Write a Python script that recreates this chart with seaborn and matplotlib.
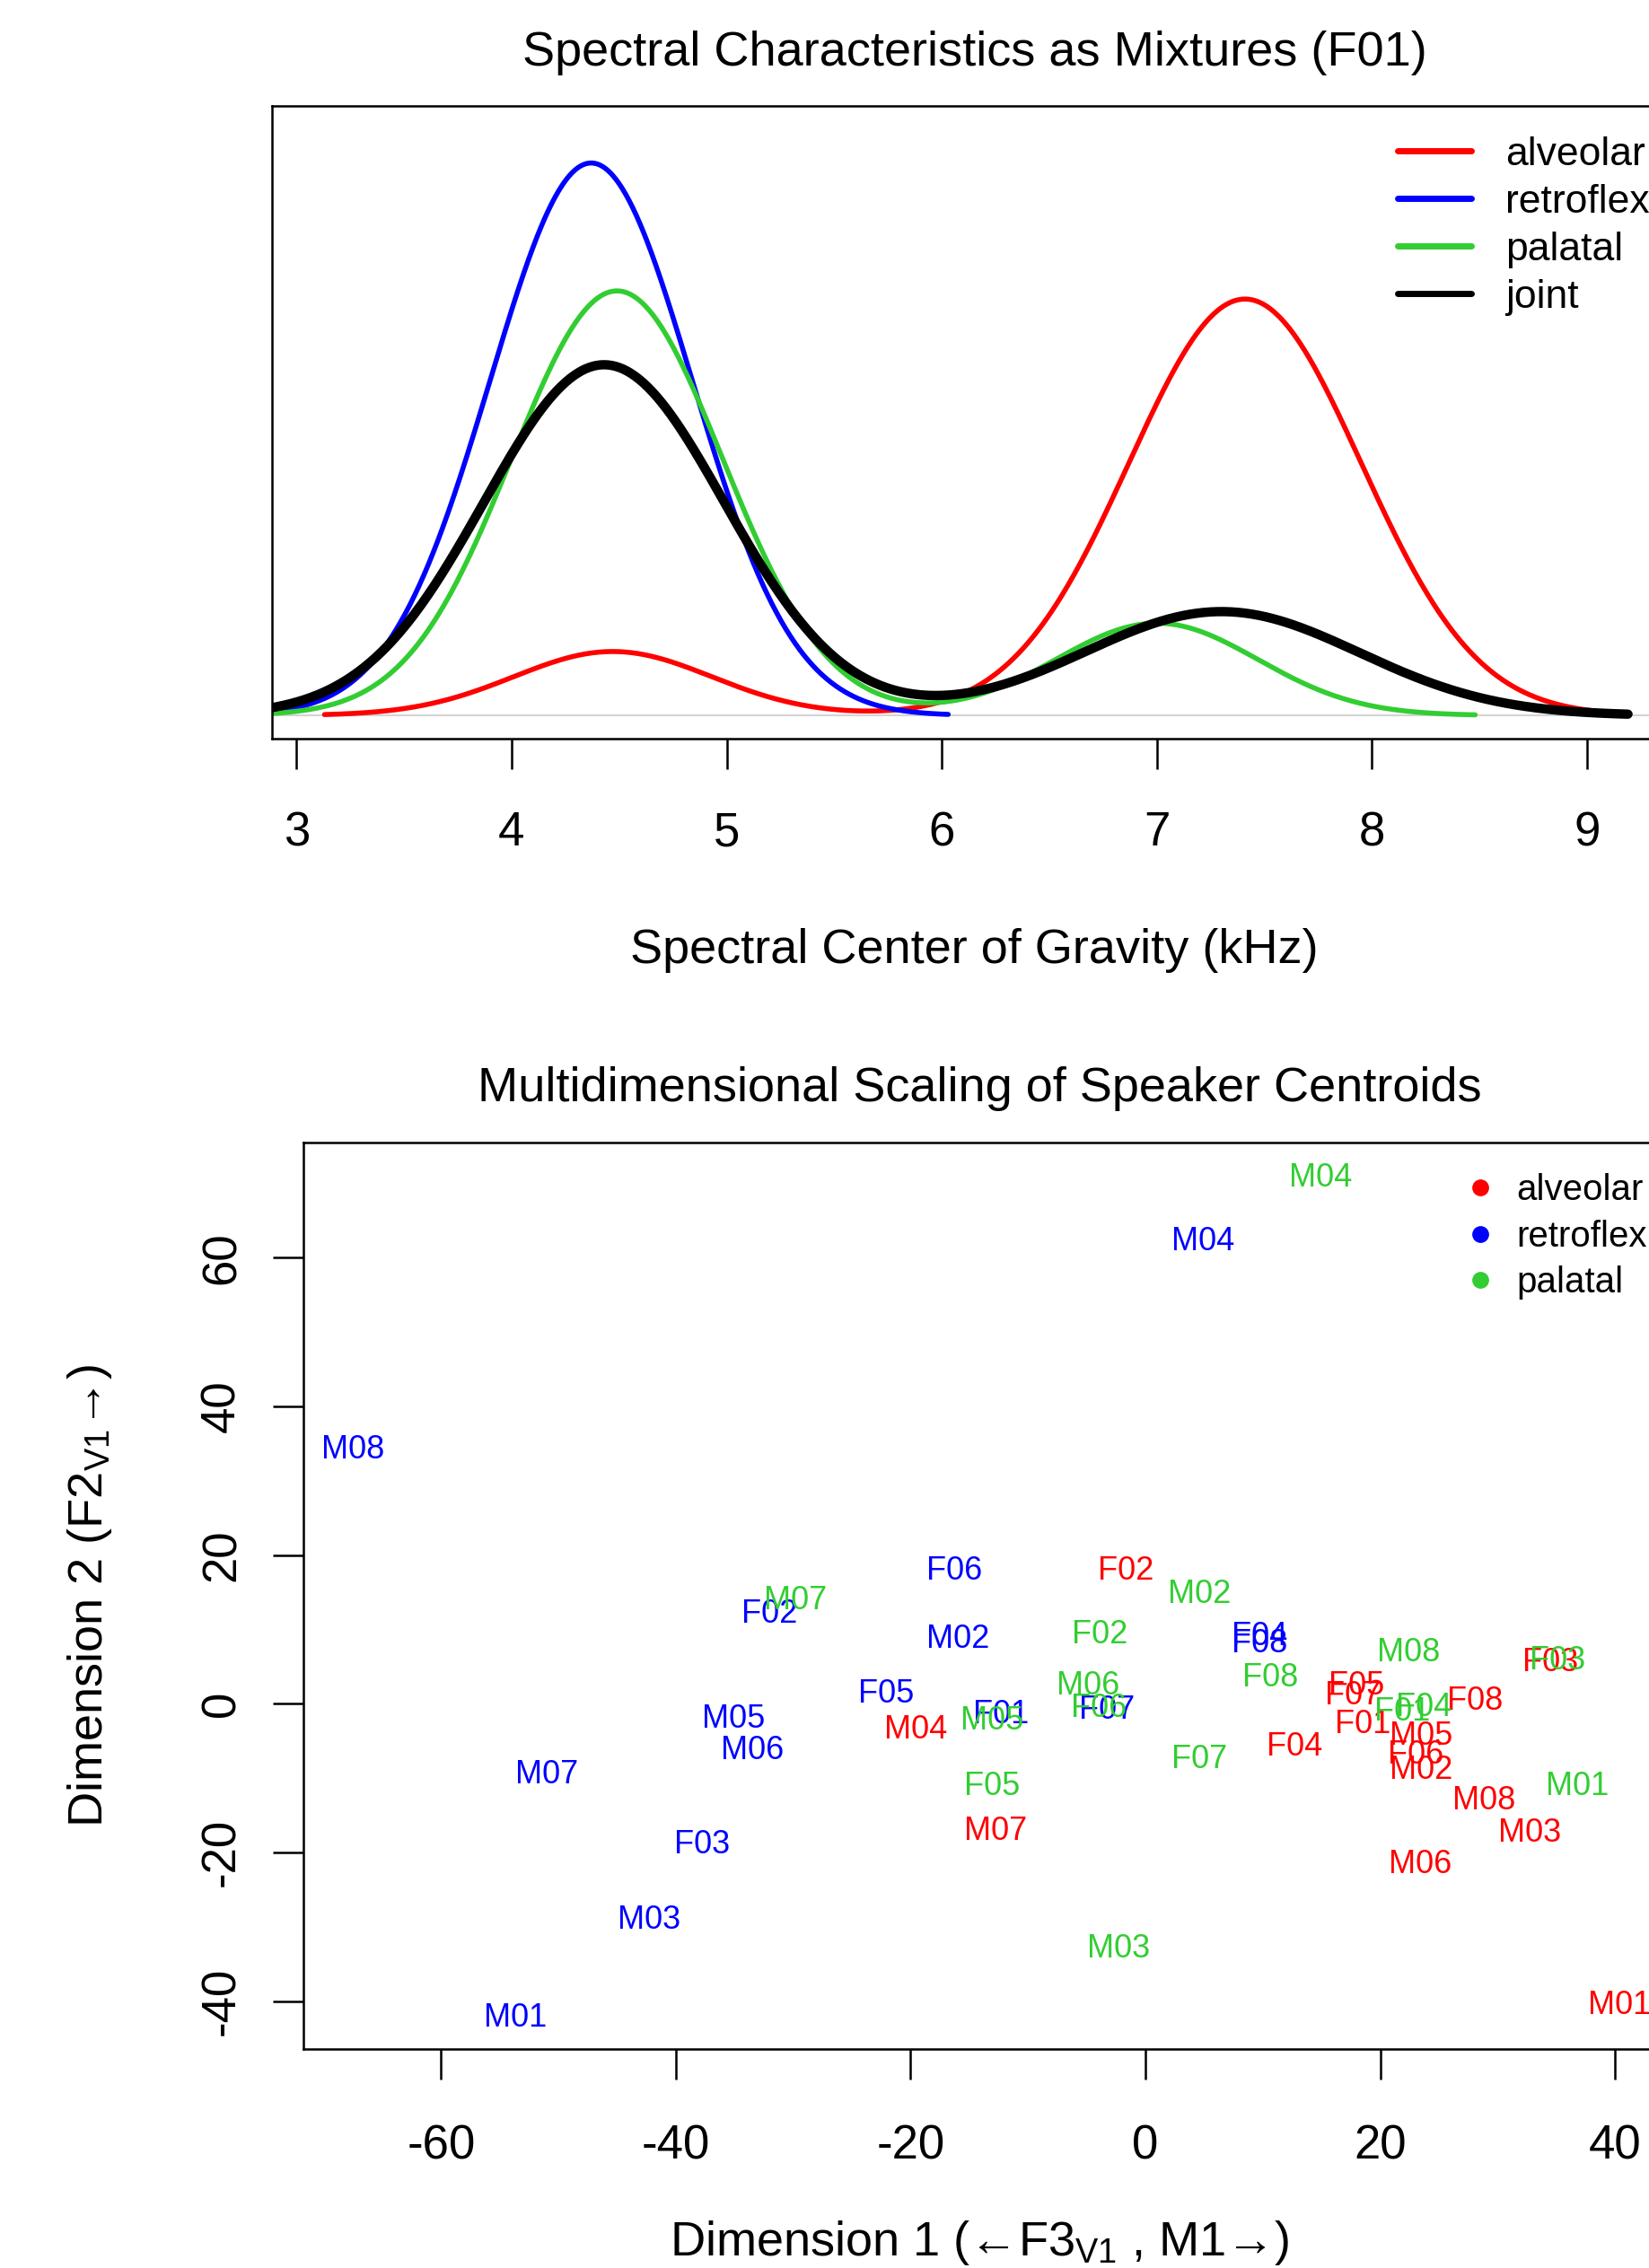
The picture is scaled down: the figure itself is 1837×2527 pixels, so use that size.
import numpy as np
import pandas as pd
import seaborn as sns
import matplotlib.pyplot as plt
from matplotlib.lines import Line2D

# ---- top panel: two-component mixture for each class (kHz, relative height) ----
classes = ["alveolar", "retroflex", "palatal", "joint"]
class_colors = ["#FF0000", "#0000FF", "#32CD32", "#000000"]
low_mean = [4.47, 4.37, 4.49, 4.43]
low_sd = [0.46, 0.47, 0.49, 0.56]
low_height = [0.149, 1.287, 0.989, 0.817]
high_mean = [7.41, 7.00, 7.00, 7.30]
high_sd = [0.54, 0.50, 0.47, 0.64]
high_height = [0.970, 0.0, 0.215, 0.242]
x_start = [3.13, 2.80, 2.80, 2.80]
x_end = [9.20, 6.03, 8.48, 9.19]
khz_ticks = [3, 4, 5, 6, 7, 8, 9]

# ---- bottom panel: MDS speaker centroids ----
alv_labels = ["F01", "F02", "F03", "F04", "F05", "F06", "F07", "F08",
              "M01", "M02", "M03", "M04", "M05", "M06", "M07", "M08"]
alv_x = [18.5, -1.7, 34.5, 12.7, 18.0, 23.0, 17.7, 28.1,
         40.4, 23.5, 32.7, -19.6, 23.5, 23.4, -12.8, 28.8]
alv_y = [-2.3, 18.3, 6.0, -5.3, 2.9, -6.4, 1.6, 0.8,
         -40.1, -8.5, -16.9, -3.1, -3.9, -21.2, -16.7, -12.6]

ret_labels = ["F01", "F02", "F03", "F04", "F05", "F06", "F07", "F08",
              "M01", "M02", "M03", "M04", "M05", "M06", "M07", "M08"]
ret_x = [-12.3, -32.0, -37.8, 9.7, -22.1, -16.3, -3.3, 9.7,
         -53.7, -16.0, -42.3, 4.9, -35.1, -33.5, -51.0, -67.5]
ret_y = [-1.0, 12.5, -18.5, 9.5, 1.8, 18.3, -0.4, 8.5,
         -41.8, 9.1, -28.6, 62.6, -1.6, -5.8, -9.1, 34.6]

pal_labels = ["F01", "F02", "F03", "F04", "F05", "F06", "F07", "F08",
              "M01", "M02", "M03", "M04", "M05", "M06", "M07", "M08"]
pal_x = [21.9, -3.9, 35.1, 23.7, -13.1, -4.0, 4.6, 10.6,
         36.8, 4.6, -2.3, 14.9, -13.1, -4.9, -29.8, 22.4]
pal_y = [-0.6, 9.7, 6.2, 0.0, -10.7, -0.1, -7.0, 3.9,
         -10.7, 15.2, -32.5, 71.2, -1.8, 2.9, 14.4, 7.4]

mds_classes = ["alveolar", "retroflex", "palatal"]
dim1_ticks = [-60, -40, -20, 0, 20, 40]
dim2_ticks = [-40, -20, 0, 20, 40, 60]

sns.set_theme(style="ticks")
plt.rcParams["font.family"] = ["Liberation Sans", "DejaVu Sans"]
plt.rcParams["mathtext.fontset"] = "custom"
plt.rcParams["mathtext.rm"] = "Liberation Sans"
plt.rcParams["mathtext.it"] = "Liberation Sans:italic"
plt.rcParams["axes.unicode_minus"] = False
plt.rcParams["axes.linewidth"] = 1.8
plt.rcParams["axes.edgecolor"] = "black"
plt.rcParams["text.color"] = "black"
plt.rcParams["axes.labelcolor"] = "black"
plt.rcParams["xtick.color"] = "black"
plt.rcParams["ytick.color"] = "black"

W, H = 1837, 2527
fig = plt.figure(figsize=(W / 100, H / 100), dpi=100)


def rect(left, right, top, bottom):
    return [left / W, 1 - bottom / H, (right - left) / W, (bottom - top) / H]


tick_fs = 38
label_fs = 39

# ---------------- top panel ----------------
ax1 = fig.add_axes(rect(303, 1868.6, 117.6, 823.4))
rows = []
for i, name in enumerate(classes):
    xs = np.linspace(x_start[i], x_end[i], 600)
    ys = (low_height[i] * np.exp(-0.5 * ((xs - low_mean[i]) / low_sd[i]) ** 2)
          + high_height[i] * np.exp(-0.5 * ((xs - high_mean[i]) / high_sd[i]) ** 2))
    rows.append(pd.DataFrame({"khz": xs, "dens": ys, "cls": name}))
curves = pd.concat(rows, ignore_index=True)

ax1.axhline(0, color="#d3d3d3", lw=1.5, zorder=0)
for i, name in enumerate(classes):
    d = curves[curves["cls"] == name]
    sns.lineplot(data=d, x="khz", y="dens", color=class_colors[i],
                 lw=7.5 if name == "joint" else 4.0, sort=False,
                 estimator=None, ax=ax1, legend=False)

ax1.set_xlim(2.886, 9.42)
ax1.set_ylim(-0.0548, 1.4208)
ax1.set_xticks(khz_ticks)
ax1.set_xticklabels([str(t) for t in khz_ticks])
ax1.set_yticks([])
ax1.tick_params(axis="x", direction="out", length=24.5, width=1.8,
                pad=33, labelsize=tick_fs)
ax1.set_xlabel("Spectral Center of Gravity (kHz)", fontsize=label_fs)
ax1.xaxis.label.set_va("center")
ax1.xaxis.set_label_coords(0.5, -0.3335)
ax1.set_ylabel("")
ax1.set_title("Spectral Characteristics as Mixtures (F01)", fontsize=label_fs,
              y=1.0713, va="center")

handles1 = [Line2D([0], [0], color=c, lw=5, solid_capstyle="round")
            for c in class_colors]
ax1.legend(handles1, classes, loc="upper left",
           bbox_to_anchor=(1557 / W, 1 - 152 / H), bbox_transform=fig.transFigure,
           frameon=False, fontsize=32, handlelength=1.85, handletextpad=0.86,
           labelspacing=0.27, borderpad=0, borderaxespad=0)

# ---------------- bottom panel ----------------
ax2 = fig.add_axes(rect(338.4, 1844.9, 1273, 2283.4))
groups = [(alv_labels, alv_x, alv_y), (ret_labels, ret_x, ret_y),
          (pal_labels, pal_x, pal_y)]
for (labs, xs, ys), col in zip(groups, class_colors[:3]):
    for lab, x, y in zip(labs, xs, ys):
        ax2.text(x, y, lab, color=col, fontsize=26, ha="center",
                 va="center_baseline", clip_on=True)

ax2.set_xlim(-71.7, 43.5)
ax2.set_ylim(-46.5, 75.5)
ax2.set_xticks(dim1_ticks)
ax2.set_xticklabels([str(t) for t in dim1_ticks])
ax2.set_yticks(dim2_ticks)
ax2.set_yticklabels([str(t) for t in dim2_ticks], rotation=90, va="center")
ax2.tick_params(axis="both", direction="out", length=24.5, width=1.8,
                labelsize=tick_fs)
ax2.tick_params(axis="x", pad=35)
ax2.tick_params(axis="y", pad=23)
ax2.set_xlabel("Dimension 1 (\u2190F3$_{\\mathrm{V1}}$ , M1\u2192)",
               fontsize=label_fs)
ax2.xaxis.label.set_va("center")
ax2.xaxis.set_label_coords(0.5, -0.2132)
ax2.set_ylabel("Dimension 2 (F2$_{\\mathrm{V1}}$\u2192)", fontsize=label_fs)
ax2.yaxis.label.set_va("center")
ax2.yaxis.set_label_coords(-0.1582, 0.5)
ax2.set_title("Multidimensional Scaling of Speaker Centroids", fontsize=label_fs,
              y=1.051, va="center")

handles2 = [Line2D([0], [0], color=c, marker="o", linestyle="none",
                   markersize=13.5, markeredgewidth=0)
            for c in class_colors[:3]]
ax2.legend(handles2, mds_classes, loc="upper left",
           bbox_to_anchor=(1637 / W, 1 - 1307 / H), bbox_transform=fig.transFigure,
           frameon=False, fontsize=29, handlelength=0.6, handletextpad=0.69,
           labelspacing=0.34, borderpad=0, borderaxespad=0)

fig.savefig("out.png", dpi=100)
